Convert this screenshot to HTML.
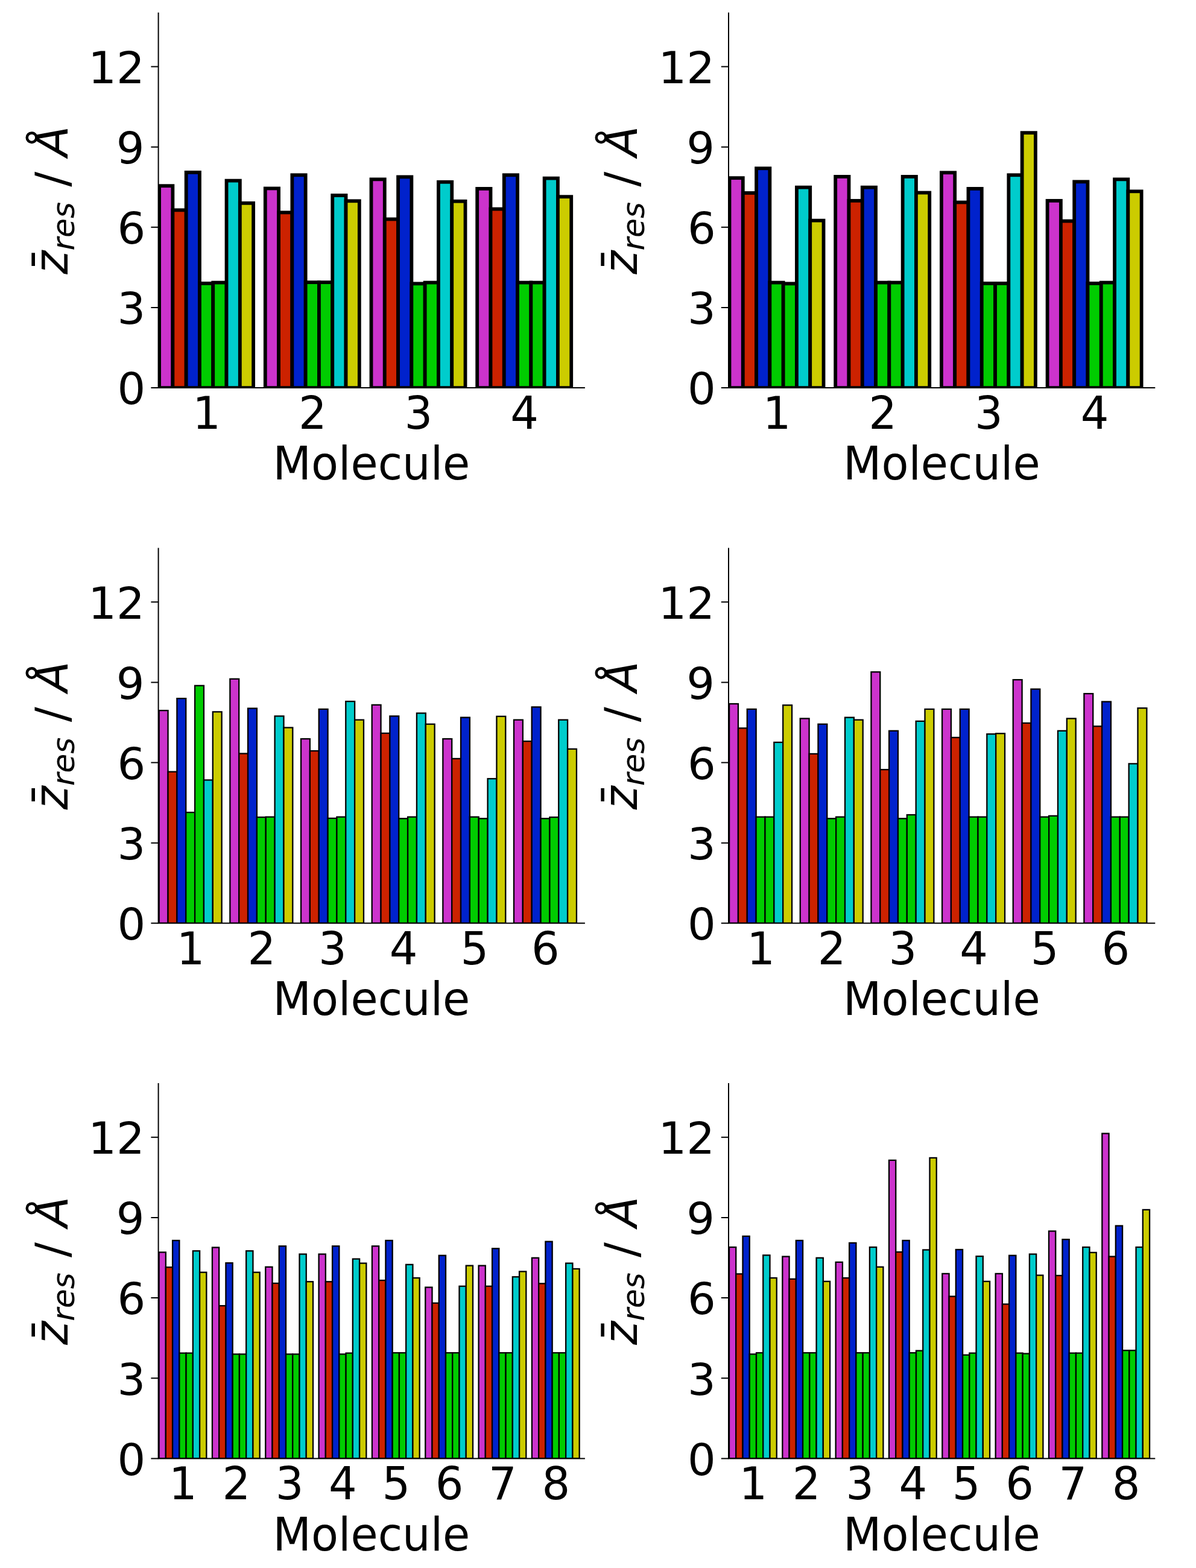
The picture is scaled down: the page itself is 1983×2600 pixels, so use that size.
<!DOCTYPE html>
<html><head><meta charset="utf-8"><title>z res bar charts</title><style>html,body{margin:0;padding:0;background:#fff;}svg{display:block;}</style></head><body>
<svg width="1983" height="2600" viewBox="0 0 1983 2600">
<rect x="0" y="0" width="1983" height="2600" fill="#ffffff"/>
<defs><clipPath id="c0"><rect x="262.60" y="20.80" width="707.30" height="622.30"/></clipPath><clipPath id="c1"><rect x="1208.00" y="20.80" width="707.30" height="622.30"/></clipPath><clipPath id="c2"><rect x="262.60" y="908.50" width="707.30" height="622.30"/></clipPath><clipPath id="c3"><rect x="1208.00" y="908.50" width="707.30" height="622.30"/></clipPath><clipPath id="c4"><rect x="262.60" y="1796.10" width="707.30" height="622.30"/></clipPath><clipPath id="c5"><rect x="1208.00" y="1796.10" width="707.30" height="622.30"/></clipPath></defs>
<g clip-path="url(#c0)" stroke="#000" stroke-width="5.8"><rect x="264.10" y="308.19" width="22.29" height="334.91" fill="#cc33cc"/><rect x="286.39" y="348.37" width="22.29" height="294.73" fill="#cc2200"/><rect x="308.68" y="285.84" width="22.29" height="357.26" fill="#0022cc"/><rect x="330.97" y="469.89" width="22.29" height="173.21" fill="#00cc00"/><rect x="353.26" y="468.56" width="22.29" height="174.54" fill="#00cc00"/><rect x="375.55" y="299.59" width="22.29" height="343.51" fill="#00cccc"/><rect x="397.84" y="336.84" width="22.29" height="306.26" fill="#cccc00"/><rect x="439.80" y="312.45" width="22.29" height="330.65" fill="#cc33cc"/><rect x="462.09" y="352.36" width="22.29" height="290.74" fill="#cc2200"/><rect x="484.38" y="290.27" width="22.29" height="352.83" fill="#0022cc"/><rect x="506.67" y="468.12" width="22.29" height="174.98" fill="#00cc00"/><rect x="528.96" y="468.12" width="22.29" height="174.98" fill="#00cc00"/><rect x="551.25" y="323.98" width="22.29" height="319.12" fill="#00cccc"/><rect x="573.54" y="333.29" width="22.29" height="309.81" fill="#cccc00"/><rect x="615.50" y="297.37" width="22.29" height="345.73" fill="#cc33cc"/><rect x="637.79" y="363.45" width="22.29" height="279.65" fill="#cc2200"/><rect x="660.08" y="293.38" width="22.29" height="349.72" fill="#0022cc"/><rect x="682.37" y="470.33" width="22.29" height="172.77" fill="#00cc00"/><rect x="704.66" y="468.56" width="22.29" height="174.54" fill="#00cc00"/><rect x="726.95" y="301.80" width="22.29" height="341.30" fill="#00cccc"/><rect x="749.24" y="333.74" width="22.29" height="309.36" fill="#cccc00"/><rect x="791.20" y="312.89" width="22.29" height="330.21" fill="#cc33cc"/><rect x="813.49" y="346.60" width="22.29" height="296.50" fill="#cc2200"/><rect x="835.78" y="290.27" width="22.29" height="352.83" fill="#0022cc"/><rect x="858.07" y="468.56" width="22.29" height="174.54" fill="#00cc00"/><rect x="880.36" y="468.56" width="22.29" height="174.54" fill="#00cc00"/><rect x="902.65" y="295.60" width="22.29" height="347.50" fill="#00cccc"/><rect x="924.94" y="326.20" width="22.29" height="316.90" fill="#cccc00"/></g>
<path d="M262.60 20.80V644.10M261.60 643.10H969.90" fill="none" stroke="#000" stroke-width="2.0"/>
<path d="M250.40 643.10H262.60M250.40 509.96H262.60M250.40 376.82H262.60M250.40 243.68H262.60M250.40 110.54H262.60" stroke="#000" stroke-width="2.0" fill="none"/>
<text transform="translate(241.30 670.40)" text-anchor="end" style="font-family:'DejaVu Sans','Liberation Sans',sans-serif;font-size:73.5px">0</text>
<text transform="translate(241.30 537.26)" text-anchor="end" style="font-family:'DejaVu Sans','Liberation Sans',sans-serif;font-size:73.5px">3</text>
<text transform="translate(241.30 404.12)" text-anchor="end" style="font-family:'DejaVu Sans','Liberation Sans',sans-serif;font-size:73.5px">6</text>
<text transform="translate(239.50 270.98)" text-anchor="end" style="font-family:'DejaVu Sans','Liberation Sans',sans-serif;font-size:73.5px">9</text>
<text transform="translate(239.70 137.84)" text-anchor="end" style="font-family:'DejaVu Sans','Liberation Sans',sans-serif;font-size:73.5px">12</text>
<text transform="translate(342.62 710.90) scale(1 1.015)" text-anchor="middle" style="font-family:'DejaVu Sans','Liberation Sans',sans-serif;font-size:73.5px">1</text>
<text transform="translate(518.32 710.90) scale(1 1.015)" text-anchor="middle" style="font-family:'DejaVu Sans','Liberation Sans',sans-serif;font-size:73.5px">2</text>
<text transform="translate(694.01 710.90) scale(1 1.015)" text-anchor="middle" style="font-family:'DejaVu Sans','Liberation Sans',sans-serif;font-size:73.5px">3</text>
<text transform="translate(869.71 710.90) scale(1 1.015)" text-anchor="middle" style="font-family:'DejaVu Sans','Liberation Sans',sans-serif;font-size:73.5px">4</text>
<text transform="translate(615.95 795.30) scale(1 1.03)" text-anchor="middle" style="font-family:'DejaVu Sans','Liberation Sans',sans-serif;font-size:73.5px">Molecule</text>
<g transform="translate(112.60 454.70) rotate(-90) scale(1 1.045)"><text style="font-family:'DejaVu Sans','Liberation Sans',sans-serif;font-size:74.5px"><tspan x="0" y="-0.3" font-style="oblique">z</tspan><tspan x="6.00" y="-1.2">¯</tspan></text></g><g transform="translate(112.60 454.70) rotate(-90)"><text style="font-family:'DejaVu Sans','Liberation Sans',sans-serif;font-size:74.5px"><tspan x="39.22" y="10.8" font-style="oblique" font-size="52.15px">r</tspan><tspan x="60.66" y="10.8" font-style="oblique" font-size="52.15px">e</tspan><tspan x="92.75" y="10.8" font-style="oblique" font-size="52.15px">s</tspan><tspan x="145.05" y="-0.31">/</tspan><tspan x="195.03" y="-0.31" font-style="oblique">Å</tspan></text></g>
<g clip-path="url(#c1)" stroke="#000" stroke-width="5.8"><rect x="1209.50" y="295.15" width="22.29" height="347.95" fill="#cc33cc"/><rect x="1231.79" y="319.99" width="22.29" height="323.11" fill="#cc2200"/><rect x="1254.08" y="279.19" width="22.29" height="363.91" fill="#0022cc"/><rect x="1276.37" y="468.56" width="22.29" height="174.54" fill="#00cc00"/><rect x="1298.66" y="470.33" width="22.29" height="172.77" fill="#00cc00"/><rect x="1320.95" y="310.67" width="22.29" height="332.43" fill="#00cccc"/><rect x="1343.24" y="365.67" width="22.29" height="277.43" fill="#cccc00"/><rect x="1385.20" y="292.93" width="22.29" height="350.17" fill="#cc33cc"/><rect x="1407.49" y="332.85" width="22.29" height="310.25" fill="#cc2200"/><rect x="1429.78" y="310.67" width="22.29" height="332.43" fill="#0022cc"/><rect x="1452.07" y="468.56" width="22.29" height="174.54" fill="#00cc00"/><rect x="1474.36" y="468.56" width="22.29" height="174.54" fill="#00cc00"/><rect x="1496.65" y="292.93" width="22.29" height="350.17" fill="#00cccc"/><rect x="1518.94" y="319.54" width="22.29" height="323.56" fill="#cccc00"/><rect x="1560.90" y="286.28" width="22.29" height="356.82" fill="#cc33cc"/><rect x="1583.19" y="335.51" width="22.29" height="307.59" fill="#cc2200"/><rect x="1605.48" y="312.89" width="22.29" height="330.21" fill="#0022cc"/><rect x="1627.77" y="469.89" width="22.29" height="173.21" fill="#00cc00"/><rect x="1650.06" y="469.89" width="22.29" height="173.21" fill="#00cc00"/><rect x="1672.35" y="290.27" width="22.29" height="352.83" fill="#00cccc"/><rect x="1694.64" y="220.20" width="22.29" height="422.90" fill="#cccc00"/><rect x="1736.60" y="332.85" width="22.29" height="310.25" fill="#cc33cc"/><rect x="1758.89" y="366.56" width="22.29" height="276.54" fill="#cc2200"/><rect x="1781.18" y="301.36" width="22.29" height="341.74" fill="#0022cc"/><rect x="1803.47" y="469.89" width="22.29" height="173.21" fill="#00cc00"/><rect x="1825.76" y="468.56" width="22.29" height="174.54" fill="#00cc00"/><rect x="1848.05" y="297.37" width="22.29" height="345.73" fill="#00cccc"/><rect x="1870.34" y="317.33" width="22.29" height="325.77" fill="#cccc00"/></g>
<path d="M1208.00 20.80V644.10M1207.00 643.10H1915.30" fill="none" stroke="#000" stroke-width="2.0"/>
<path d="M1195.80 643.10H1208.00M1195.80 509.96H1208.00M1195.80 376.82H1208.00M1195.80 243.68H1208.00M1195.80 110.54H1208.00" stroke="#000" stroke-width="2.0" fill="none"/>
<text transform="translate(1186.70 670.40)" text-anchor="end" style="font-family:'DejaVu Sans','Liberation Sans',sans-serif;font-size:73.5px">0</text>
<text transform="translate(1186.70 537.26)" text-anchor="end" style="font-family:'DejaVu Sans','Liberation Sans',sans-serif;font-size:73.5px">3</text>
<text transform="translate(1186.70 404.12)" text-anchor="end" style="font-family:'DejaVu Sans','Liberation Sans',sans-serif;font-size:73.5px">6</text>
<text transform="translate(1184.90 270.98)" text-anchor="end" style="font-family:'DejaVu Sans','Liberation Sans',sans-serif;font-size:73.5px">9</text>
<text transform="translate(1185.10 137.84)" text-anchor="end" style="font-family:'DejaVu Sans','Liberation Sans',sans-serif;font-size:73.5px">12</text>
<text transform="translate(1288.02 710.90) scale(1 1.015)" text-anchor="middle" style="font-family:'DejaVu Sans','Liberation Sans',sans-serif;font-size:73.5px">1</text>
<text transform="translate(1463.72 710.90) scale(1 1.015)" text-anchor="middle" style="font-family:'DejaVu Sans','Liberation Sans',sans-serif;font-size:73.5px">2</text>
<text transform="translate(1639.42 710.90) scale(1 1.015)" text-anchor="middle" style="font-family:'DejaVu Sans','Liberation Sans',sans-serif;font-size:73.5px">3</text>
<text transform="translate(1815.12 710.90) scale(1 1.015)" text-anchor="middle" style="font-family:'DejaVu Sans','Liberation Sans',sans-serif;font-size:73.5px">4</text>
<text transform="translate(1561.35 795.30) scale(1 1.03)" text-anchor="middle" style="font-family:'DejaVu Sans','Liberation Sans',sans-serif;font-size:73.5px">Molecule</text>
<g transform="translate(1056.70 454.70) rotate(-90) scale(1 1.045)"><text style="font-family:'DejaVu Sans','Liberation Sans',sans-serif;font-size:74.5px"><tspan x="0" y="-0.3" font-style="oblique">z</tspan><tspan x="6.00" y="-1.2">¯</tspan></text></g><g transform="translate(1056.70 454.70) rotate(-90)"><text style="font-family:'DejaVu Sans','Liberation Sans',sans-serif;font-size:74.5px"><tspan x="39.22" y="10.8" font-style="oblique" font-size="52.15px">r</tspan><tspan x="60.66" y="10.8" font-style="oblique" font-size="52.15px">e</tspan><tspan x="92.75" y="10.8" font-style="oblique" font-size="52.15px">s</tspan><tspan x="145.05" y="-0.31">/</tspan><tspan x="195.03" y="-0.31" font-style="oblique">Å</tspan></text></g>
<g clip-path="url(#c2)" stroke="#000" stroke-width="2.3"><rect x="263.70" y="1178.12" width="14.85" height="352.68" fill="#cc33cc"/><rect x="278.55" y="1279.68" width="14.85" height="251.12" fill="#cc2200"/><rect x="293.40" y="1158.16" width="14.85" height="372.64" fill="#0022cc"/><rect x="308.25" y="1347.09" width="14.85" height="183.71" fill="#00cc00"/><rect x="323.10" y="1136.87" width="14.85" height="393.93" fill="#00cc00"/><rect x="337.95" y="1293.43" width="14.85" height="237.37" fill="#00cccc"/><rect x="352.80" y="1180.34" width="14.85" height="350.46" fill="#cccc00"/><rect x="381.36" y="1125.78" width="14.85" height="405.02" fill="#cc33cc"/><rect x="396.21" y="1249.52" width="14.85" height="281.28" fill="#cc2200"/><rect x="411.06" y="1174.57" width="14.85" height="356.23" fill="#0022cc"/><rect x="425.91" y="1355.07" width="14.85" height="175.73" fill="#00cc00"/><rect x="440.76" y="1354.63" width="14.85" height="176.17" fill="#00cc00"/><rect x="455.61" y="1187.43" width="14.85" height="343.37" fill="#00cccc"/><rect x="470.46" y="1206.50" width="14.85" height="324.30" fill="#cccc00"/><rect x="499.02" y="1225.13" width="14.85" height="305.67" fill="#cc33cc"/><rect x="513.87" y="1245.09" width="14.85" height="285.71" fill="#cc2200"/><rect x="528.72" y="1175.90" width="14.85" height="354.90" fill="#0022cc"/><rect x="543.57" y="1356.85" width="14.85" height="173.95" fill="#00cc00"/><rect x="558.42" y="1354.63" width="14.85" height="176.17" fill="#00cc00"/><rect x="573.27" y="1163.04" width="14.85" height="367.76" fill="#00cccc"/><rect x="588.12" y="1193.64" width="14.85" height="337.16" fill="#cccc00"/><rect x="616.68" y="1168.80" width="14.85" height="362.00" fill="#cc33cc"/><rect x="631.53" y="1215.82" width="14.85" height="314.98" fill="#cc2200"/><rect x="646.38" y="1187.43" width="14.85" height="343.37" fill="#0022cc"/><rect x="661.23" y="1357.29" width="14.85" height="173.51" fill="#00cc00"/><rect x="676.08" y="1354.63" width="14.85" height="176.17" fill="#00cc00"/><rect x="690.93" y="1182.55" width="14.85" height="348.25" fill="#00cccc"/><rect x="705.78" y="1200.74" width="14.85" height="330.06" fill="#cccc00"/><rect x="734.34" y="1225.13" width="14.85" height="305.67" fill="#cc33cc"/><rect x="749.19" y="1257.95" width="14.85" height="272.85" fill="#cc2200"/><rect x="764.04" y="1189.65" width="14.85" height="341.15" fill="#0022cc"/><rect x="778.89" y="1354.63" width="14.85" height="176.17" fill="#00cc00"/><rect x="793.74" y="1357.29" width="14.85" height="173.51" fill="#00cc00"/><rect x="808.59" y="1291.21" width="14.85" height="239.59" fill="#00cccc"/><rect x="823.44" y="1187.87" width="14.85" height="342.93" fill="#cccc00"/><rect x="852.00" y="1193.64" width="14.85" height="337.16" fill="#cc33cc"/><rect x="866.85" y="1229.12" width="14.85" height="301.68" fill="#cc2200"/><rect x="881.70" y="1172.35" width="14.85" height="358.45" fill="#0022cc"/><rect x="896.55" y="1357.29" width="14.85" height="173.51" fill="#00cc00"/><rect x="911.40" y="1355.07" width="14.85" height="175.73" fill="#00cc00"/><rect x="926.25" y="1193.64" width="14.85" height="337.16" fill="#00cccc"/><rect x="941.10" y="1241.98" width="14.85" height="288.82" fill="#cccc00"/></g>
<path d="M262.60 908.50V1531.80M261.60 1530.80H969.90" fill="none" stroke="#000" stroke-width="2.0"/>
<path d="M250.40 1530.80H262.60M250.40 1397.66H262.60M250.40 1264.52H262.60M250.40 1131.38H262.60M250.40 998.24H262.60" stroke="#000" stroke-width="2.0" fill="none"/>
<text transform="translate(241.30 1558.10)" text-anchor="end" style="font-family:'DejaVu Sans','Liberation Sans',sans-serif;font-size:73.5px">0</text>
<text transform="translate(241.30 1424.96)" text-anchor="end" style="font-family:'DejaVu Sans','Liberation Sans',sans-serif;font-size:73.5px">3</text>
<text transform="translate(241.30 1291.82)" text-anchor="end" style="font-family:'DejaVu Sans','Liberation Sans',sans-serif;font-size:73.5px">6</text>
<text transform="translate(239.50 1158.68)" text-anchor="end" style="font-family:'DejaVu Sans','Liberation Sans',sans-serif;font-size:73.5px">9</text>
<text transform="translate(239.70 1025.54)" text-anchor="end" style="font-family:'DejaVu Sans','Liberation Sans',sans-serif;font-size:73.5px">12</text>
<text transform="translate(316.18 1598.60) scale(1 1.015)" text-anchor="middle" style="font-family:'DejaVu Sans','Liberation Sans',sans-serif;font-size:73.5px">1</text>
<text transform="translate(433.84 1598.60) scale(1 1.015)" text-anchor="middle" style="font-family:'DejaVu Sans','Liberation Sans',sans-serif;font-size:73.5px">2</text>
<text transform="translate(551.50 1598.60) scale(1 1.015)" text-anchor="middle" style="font-family:'DejaVu Sans','Liberation Sans',sans-serif;font-size:73.5px">3</text>
<text transform="translate(669.16 1598.60) scale(1 1.015)" text-anchor="middle" style="font-family:'DejaVu Sans','Liberation Sans',sans-serif;font-size:73.5px">4</text>
<text transform="translate(786.82 1598.60) scale(1 1.015)" text-anchor="middle" style="font-family:'DejaVu Sans','Liberation Sans',sans-serif;font-size:73.5px">5</text>
<text transform="translate(904.48 1598.60) scale(1 1.015)" text-anchor="middle" style="font-family:'DejaVu Sans','Liberation Sans',sans-serif;font-size:73.5px">6</text>
<text transform="translate(615.95 1683.00) scale(1 1.03)" text-anchor="middle" style="font-family:'DejaVu Sans','Liberation Sans',sans-serif;font-size:73.5px">Molecule</text>
<g transform="translate(112.60 1342.40) rotate(-90) scale(1 1.045)"><text style="font-family:'DejaVu Sans','Liberation Sans',sans-serif;font-size:74.5px"><tspan x="0" y="-0.3" font-style="oblique">z</tspan><tspan x="6.00" y="-1.2">¯</tspan></text></g><g transform="translate(112.60 1342.40) rotate(-90)"><text style="font-family:'DejaVu Sans','Liberation Sans',sans-serif;font-size:74.5px"><tspan x="39.22" y="10.8" font-style="oblique" font-size="52.15px">r</tspan><tspan x="60.66" y="10.8" font-style="oblique" font-size="52.15px">e</tspan><tspan x="92.75" y="10.8" font-style="oblique" font-size="52.15px">s</tspan><tspan x="145.05" y="-0.31">/</tspan><tspan x="195.03" y="-0.31" font-style="oblique">Å</tspan></text></g>
<g clip-path="url(#c3)" stroke="#000" stroke-width="2.3"><rect x="1209.10" y="1167.03" width="14.85" height="363.77" fill="#cc33cc"/><rect x="1223.95" y="1207.39" width="14.85" height="323.41" fill="#cc2200"/><rect x="1238.80" y="1175.90" width="14.85" height="354.90" fill="#0022cc"/><rect x="1253.65" y="1354.63" width="14.85" height="176.17" fill="#00cc00"/><rect x="1268.50" y="1354.63" width="14.85" height="176.17" fill="#00cc00"/><rect x="1283.35" y="1230.89" width="14.85" height="299.91" fill="#00cccc"/><rect x="1298.20" y="1169.25" width="14.85" height="361.55" fill="#cccc00"/><rect x="1326.76" y="1191.42" width="14.85" height="339.38" fill="#cc33cc"/><rect x="1341.61" y="1249.96" width="14.85" height="280.84" fill="#cc2200"/><rect x="1356.46" y="1200.74" width="14.85" height="330.06" fill="#0022cc"/><rect x="1371.31" y="1357.29" width="14.85" height="173.51" fill="#00cc00"/><rect x="1386.16" y="1354.63" width="14.85" height="176.17" fill="#00cc00"/><rect x="1401.01" y="1189.65" width="14.85" height="341.15" fill="#00cccc"/><rect x="1415.86" y="1193.64" width="14.85" height="337.16" fill="#cccc00"/><rect x="1444.42" y="1114.25" width="14.85" height="416.55" fill="#cc33cc"/><rect x="1459.27" y="1276.13" width="14.85" height="254.67" fill="#cc2200"/><rect x="1474.12" y="1211.82" width="14.85" height="318.98" fill="#0022cc"/><rect x="1488.97" y="1357.29" width="14.85" height="173.51" fill="#00cc00"/><rect x="1503.82" y="1351.08" width="14.85" height="179.72" fill="#00cc00"/><rect x="1518.67" y="1195.86" width="14.85" height="334.94" fill="#00cccc"/><rect x="1533.52" y="1175.90" width="14.85" height="354.90" fill="#cccc00"/><rect x="1562.08" y="1175.90" width="14.85" height="354.90" fill="#cc33cc"/><rect x="1576.93" y="1222.91" width="14.85" height="307.89" fill="#cc2200"/><rect x="1591.78" y="1175.90" width="14.85" height="354.90" fill="#0022cc"/><rect x="1606.63" y="1354.63" width="14.85" height="176.17" fill="#00cc00"/><rect x="1621.48" y="1354.63" width="14.85" height="176.17" fill="#00cc00"/><rect x="1636.33" y="1217.15" width="14.85" height="313.65" fill="#00cccc"/><rect x="1651.18" y="1216.26" width="14.85" height="314.54" fill="#cccc00"/><rect x="1679.74" y="1127.12" width="14.85" height="403.68" fill="#cc33cc"/><rect x="1694.59" y="1198.96" width="14.85" height="331.84" fill="#cc2200"/><rect x="1709.44" y="1142.64" width="14.85" height="388.16" fill="#0022cc"/><rect x="1724.29" y="1354.63" width="14.85" height="176.17" fill="#00cc00"/><rect x="1739.14" y="1352.86" width="14.85" height="177.94" fill="#00cc00"/><rect x="1753.99" y="1211.82" width="14.85" height="318.98" fill="#00cccc"/><rect x="1768.84" y="1191.42" width="14.85" height="339.38" fill="#cccc00"/><rect x="1797.40" y="1150.18" width="14.85" height="380.62" fill="#cc33cc"/><rect x="1812.25" y="1204.28" width="14.85" height="326.52" fill="#cc2200"/><rect x="1827.10" y="1163.48" width="14.85" height="367.32" fill="#0022cc"/><rect x="1841.95" y="1354.63" width="14.85" height="176.17" fill="#00cc00"/><rect x="1856.80" y="1354.63" width="14.85" height="176.17" fill="#00cc00"/><rect x="1871.65" y="1266.37" width="14.85" height="264.43" fill="#00cccc"/><rect x="1886.50" y="1174.13" width="14.85" height="356.67" fill="#cccc00"/></g>
<path d="M1208.00 908.50V1531.80M1207.00 1530.80H1915.30" fill="none" stroke="#000" stroke-width="2.0"/>
<path d="M1195.80 1530.80H1208.00M1195.80 1397.66H1208.00M1195.80 1264.52H1208.00M1195.80 1131.38H1208.00M1195.80 998.24H1208.00" stroke="#000" stroke-width="2.0" fill="none"/>
<text transform="translate(1186.70 1558.10)" text-anchor="end" style="font-family:'DejaVu Sans','Liberation Sans',sans-serif;font-size:73.5px">0</text>
<text transform="translate(1186.70 1424.96)" text-anchor="end" style="font-family:'DejaVu Sans','Liberation Sans',sans-serif;font-size:73.5px">3</text>
<text transform="translate(1186.70 1291.82)" text-anchor="end" style="font-family:'DejaVu Sans','Liberation Sans',sans-serif;font-size:73.5px">6</text>
<text transform="translate(1184.90 1158.68)" text-anchor="end" style="font-family:'DejaVu Sans','Liberation Sans',sans-serif;font-size:73.5px">9</text>
<text transform="translate(1185.10 1025.54)" text-anchor="end" style="font-family:'DejaVu Sans','Liberation Sans',sans-serif;font-size:73.5px">12</text>
<text transform="translate(1261.57 1598.60) scale(1 1.015)" text-anchor="middle" style="font-family:'DejaVu Sans','Liberation Sans',sans-serif;font-size:73.5px">1</text>
<text transform="translate(1379.23 1598.60) scale(1 1.015)" text-anchor="middle" style="font-family:'DejaVu Sans','Liberation Sans',sans-serif;font-size:73.5px">2</text>
<text transform="translate(1496.89 1598.60) scale(1 1.015)" text-anchor="middle" style="font-family:'DejaVu Sans','Liberation Sans',sans-serif;font-size:73.5px">3</text>
<text transform="translate(1614.55 1598.60) scale(1 1.015)" text-anchor="middle" style="font-family:'DejaVu Sans','Liberation Sans',sans-serif;font-size:73.5px">4</text>
<text transform="translate(1732.21 1598.60) scale(1 1.015)" text-anchor="middle" style="font-family:'DejaVu Sans','Liberation Sans',sans-serif;font-size:73.5px">5</text>
<text transform="translate(1849.87 1598.60) scale(1 1.015)" text-anchor="middle" style="font-family:'DejaVu Sans','Liberation Sans',sans-serif;font-size:73.5px">6</text>
<text transform="translate(1561.35 1683.00) scale(1 1.03)" text-anchor="middle" style="font-family:'DejaVu Sans','Liberation Sans',sans-serif;font-size:73.5px">Molecule</text>
<g transform="translate(1056.70 1342.40) rotate(-90) scale(1 1.045)"><text style="font-family:'DejaVu Sans','Liberation Sans',sans-serif;font-size:74.5px"><tspan x="0" y="-0.3" font-style="oblique">z</tspan><tspan x="6.00" y="-1.2">¯</tspan></text></g><g transform="translate(1056.70 1342.40) rotate(-90)"><text style="font-family:'DejaVu Sans','Liberation Sans',sans-serif;font-size:74.5px"><tspan x="39.22" y="10.8" font-style="oblique" font-size="52.15px">r</tspan><tspan x="60.66" y="10.8" font-style="oblique" font-size="52.15px">e</tspan><tspan x="92.75" y="10.8" font-style="oblique" font-size="52.15px">s</tspan><tspan x="145.05" y="-0.31">/</tspan><tspan x="195.03" y="-0.31" font-style="oblique">Å</tspan></text></g>
<g clip-path="url(#c4)" stroke="#000" stroke-width="2.3"><rect x="263.60" y="2076.45" width="11.25" height="341.95" fill="#cc33cc"/><rect x="274.85" y="2101.28" width="11.25" height="317.12" fill="#cc2200"/><rect x="286.10" y="2056.93" width="11.25" height="361.47" fill="#0022cc"/><rect x="297.35" y="2243.65" width="11.25" height="174.75" fill="#00cc00"/><rect x="308.60" y="2243.65" width="11.25" height="174.75" fill="#00cc00"/><rect x="319.85" y="2074.23" width="11.25" height="344.17" fill="#00cccc"/><rect x="331.10" y="2109.71" width="11.25" height="308.69" fill="#cccc00"/><rect x="351.93" y="2068.47" width="11.25" height="349.93" fill="#cc33cc"/><rect x="363.18" y="2165.15" width="11.25" height="253.25" fill="#cc2200"/><rect x="374.43" y="2094.19" width="11.25" height="324.21" fill="#0022cc"/><rect x="385.68" y="2245.42" width="11.25" height="172.98" fill="#00cc00"/><rect x="396.93" y="2245.42" width="11.25" height="172.98" fill="#00cc00"/><rect x="408.18" y="2074.23" width="11.25" height="344.17" fill="#00cccc"/><rect x="419.43" y="2109.71" width="11.25" height="308.69" fill="#cccc00"/><rect x="440.26" y="2100.84" width="11.25" height="317.56" fill="#cc33cc"/><rect x="451.51" y="2127.89" width="11.25" height="290.51" fill="#cc2200"/><rect x="462.76" y="2066.25" width="11.25" height="352.15" fill="#0022cc"/><rect x="474.01" y="2245.42" width="11.25" height="172.98" fill="#00cc00"/><rect x="485.26" y="2245.42" width="11.25" height="172.98" fill="#00cc00"/><rect x="496.51" y="2079.55" width="11.25" height="338.85" fill="#00cccc"/><rect x="507.76" y="2125.23" width="11.25" height="293.17" fill="#cccc00"/><rect x="528.59" y="2079.55" width="11.25" height="338.85" fill="#cc33cc"/><rect x="539.84" y="2125.23" width="11.25" height="293.17" fill="#cc2200"/><rect x="551.09" y="2066.25" width="11.25" height="352.15" fill="#0022cc"/><rect x="562.34" y="2245.42" width="11.25" height="172.98" fill="#00cc00"/><rect x="573.59" y="2243.65" width="11.25" height="174.75" fill="#00cc00"/><rect x="584.84" y="2087.54" width="11.25" height="330.86" fill="#00cccc"/><rect x="596.09" y="2094.63" width="11.25" height="323.77" fill="#cccc00"/><rect x="616.92" y="2066.25" width="11.25" height="352.15" fill="#cc33cc"/><rect x="628.17" y="2123.02" width="11.25" height="295.38" fill="#cc2200"/><rect x="639.42" y="2056.93" width="11.25" height="361.47" fill="#0022cc"/><rect x="650.67" y="2243.20" width="11.25" height="175.20" fill="#00cc00"/><rect x="661.92" y="2243.20" width="11.25" height="175.20" fill="#00cc00"/><rect x="673.17" y="2096.85" width="11.25" height="321.55" fill="#00cccc"/><rect x="684.42" y="2119.02" width="11.25" height="299.38" fill="#cccc00"/><rect x="705.25" y="2134.55" width="11.25" height="283.85" fill="#cc33cc"/><rect x="716.50" y="2160.71" width="11.25" height="257.69" fill="#cc2200"/><rect x="727.75" y="2081.77" width="11.25" height="336.63" fill="#0022cc"/><rect x="739.00" y="2243.20" width="11.25" height="175.20" fill="#00cc00"/><rect x="750.25" y="2243.20" width="11.25" height="175.20" fill="#00cc00"/><rect x="761.50" y="2132.77" width="11.25" height="285.63" fill="#00cccc"/><rect x="772.75" y="2098.62" width="11.25" height="319.78" fill="#cccc00"/><rect x="793.58" y="2098.62" width="11.25" height="319.78" fill="#cc33cc"/><rect x="804.83" y="2132.77" width="11.25" height="285.63" fill="#cc2200"/><rect x="816.08" y="2070.24" width="11.25" height="348.16" fill="#0022cc"/><rect x="827.33" y="2243.20" width="11.25" height="175.20" fill="#00cc00"/><rect x="838.58" y="2243.20" width="11.25" height="175.20" fill="#00cc00"/><rect x="849.83" y="2117.25" width="11.25" height="301.15" fill="#00cccc"/><rect x="861.08" y="2108.38" width="11.25" height="310.02" fill="#cccc00"/><rect x="881.91" y="2085.76" width="11.25" height="332.64" fill="#cc33cc"/><rect x="893.16" y="2128.34" width="11.25" height="290.06" fill="#cc2200"/><rect x="904.41" y="2058.71" width="11.25" height="359.69" fill="#0022cc"/><rect x="915.66" y="2243.20" width="11.25" height="175.20" fill="#00cc00"/><rect x="926.91" y="2243.20" width="11.25" height="175.20" fill="#00cc00"/><rect x="938.16" y="2094.63" width="11.25" height="323.77" fill="#00cccc"/><rect x="949.41" y="2103.95" width="11.25" height="314.45" fill="#cccc00"/></g>
<path d="M262.60 1796.10V2419.40M261.60 2418.40H969.90" fill="none" stroke="#000" stroke-width="2.0"/>
<path d="M250.40 2418.40H262.60M250.40 2285.26H262.60M250.40 2152.12H262.60M250.40 2018.98H262.60M250.40 1885.84H262.60" stroke="#000" stroke-width="2.0" fill="none"/>
<text transform="translate(241.30 2445.70)" text-anchor="end" style="font-family:'DejaVu Sans','Liberation Sans',sans-serif;font-size:73.5px">0</text>
<text transform="translate(241.30 2312.56)" text-anchor="end" style="font-family:'DejaVu Sans','Liberation Sans',sans-serif;font-size:73.5px">3</text>
<text transform="translate(241.30 2179.42)" text-anchor="end" style="font-family:'DejaVu Sans','Liberation Sans',sans-serif;font-size:73.5px">6</text>
<text transform="translate(239.50 2046.28)" text-anchor="end" style="font-family:'DejaVu Sans','Liberation Sans',sans-serif;font-size:73.5px">9</text>
<text transform="translate(239.70 1913.14)" text-anchor="end" style="font-family:'DejaVu Sans','Liberation Sans',sans-serif;font-size:73.5px">12</text>
<text transform="translate(303.48 2486.20) scale(1 1.015)" text-anchor="middle" style="font-family:'DejaVu Sans','Liberation Sans',sans-serif;font-size:73.5px">1</text>
<text transform="translate(391.81 2486.20) scale(1 1.015)" text-anchor="middle" style="font-family:'DejaVu Sans','Liberation Sans',sans-serif;font-size:73.5px">2</text>
<text transform="translate(480.13 2486.20) scale(1 1.015)" text-anchor="middle" style="font-family:'DejaVu Sans','Liberation Sans',sans-serif;font-size:73.5px">3</text>
<text transform="translate(568.47 2486.20) scale(1 1.015)" text-anchor="middle" style="font-family:'DejaVu Sans','Liberation Sans',sans-serif;font-size:73.5px">4</text>
<text transform="translate(656.80 2486.20) scale(1 1.015)" text-anchor="middle" style="font-family:'DejaVu Sans','Liberation Sans',sans-serif;font-size:73.5px">5</text>
<text transform="translate(745.12 2486.20) scale(1 1.015)" text-anchor="middle" style="font-family:'DejaVu Sans','Liberation Sans',sans-serif;font-size:73.5px">6</text>
<text transform="translate(833.46 2486.20) scale(1 1.015)" text-anchor="middle" style="font-family:'DejaVu Sans','Liberation Sans',sans-serif;font-size:73.5px">7</text>
<text transform="translate(921.78 2486.20) scale(1 1.015)" text-anchor="middle" style="font-family:'DejaVu Sans','Liberation Sans',sans-serif;font-size:73.5px">8</text>
<text transform="translate(615.95 2570.60) scale(1 1.03)" text-anchor="middle" style="font-family:'DejaVu Sans','Liberation Sans',sans-serif;font-size:73.5px">Molecule</text>
<g transform="translate(112.60 2230.00) rotate(-90) scale(1 1.045)"><text style="font-family:'DejaVu Sans','Liberation Sans',sans-serif;font-size:74.5px"><tspan x="0" y="-0.3" font-style="oblique">z</tspan><tspan x="6.00" y="-1.2">¯</tspan></text></g><g transform="translate(112.60 2230.00) rotate(-90)"><text style="font-family:'DejaVu Sans','Liberation Sans',sans-serif;font-size:74.5px"><tspan x="39.22" y="10.8" font-style="oblique" font-size="52.15px">r</tspan><tspan x="60.66" y="10.8" font-style="oblique" font-size="52.15px">e</tspan><tspan x="92.75" y="10.8" font-style="oblique" font-size="52.15px">s</tspan><tspan x="145.05" y="-0.31">/</tspan><tspan x="195.03" y="-0.31" font-style="oblique">Å</tspan></text></g>
<g clip-path="url(#c5)" stroke="#000" stroke-width="2.3"><rect x="1209.00" y="2068.02" width="11.25" height="350.38" fill="#cc33cc"/><rect x="1220.25" y="2112.37" width="11.25" height="306.03" fill="#cc2200"/><rect x="1231.50" y="2049.84" width="11.25" height="368.56" fill="#0022cc"/><rect x="1242.75" y="2245.42" width="11.25" height="172.98" fill="#00cc00"/><rect x="1254.00" y="2243.20" width="11.25" height="175.20" fill="#00cc00"/><rect x="1265.25" y="2081.33" width="11.25" height="337.07" fill="#00cccc"/><rect x="1276.50" y="2119.02" width="11.25" height="299.38" fill="#cccc00"/><rect x="1297.33" y="2083.54" width="11.25" height="334.86" fill="#cc33cc"/><rect x="1308.58" y="2120.80" width="11.25" height="297.60" fill="#cc2200"/><rect x="1319.83" y="2056.93" width="11.25" height="361.47" fill="#0022cc"/><rect x="1331.08" y="2243.20" width="11.25" height="175.20" fill="#00cc00"/><rect x="1342.33" y="2243.20" width="11.25" height="175.20" fill="#00cc00"/><rect x="1353.58" y="2085.76" width="11.25" height="332.64" fill="#00cccc"/><rect x="1364.83" y="2124.79" width="11.25" height="293.61" fill="#cccc00"/><rect x="1385.66" y="2092.86" width="11.25" height="325.54" fill="#cc33cc"/><rect x="1396.91" y="2119.02" width="11.25" height="299.38" fill="#cc2200"/><rect x="1408.16" y="2060.93" width="11.25" height="357.47" fill="#0022cc"/><rect x="1419.41" y="2243.20" width="11.25" height="175.20" fill="#00cc00"/><rect x="1430.66" y="2243.20" width="11.25" height="175.20" fill="#00cc00"/><rect x="1441.91" y="2068.02" width="11.25" height="350.38" fill="#00cccc"/><rect x="1453.16" y="2100.84" width="11.25" height="317.56" fill="#cccc00"/><rect x="1473.99" y="1923.88" width="11.25" height="494.52" fill="#cc33cc"/><rect x="1485.24" y="2076.01" width="11.25" height="342.39" fill="#cc2200"/><rect x="1496.49" y="2056.93" width="11.25" height="361.47" fill="#0022cc"/><rect x="1507.74" y="2243.20" width="11.25" height="175.20" fill="#00cc00"/><rect x="1518.99" y="2239.66" width="11.25" height="178.74" fill="#00cc00"/><rect x="1530.24" y="2072.46" width="11.25" height="345.94" fill="#00cccc"/><rect x="1541.49" y="1919.89" width="11.25" height="498.51" fill="#cccc00"/><rect x="1562.32" y="2111.93" width="11.25" height="306.47" fill="#cc33cc"/><rect x="1573.57" y="2149.63" width="11.25" height="268.77" fill="#cc2200"/><rect x="1584.82" y="2072.01" width="11.25" height="346.39" fill="#0022cc"/><rect x="1596.07" y="2246.75" width="11.25" height="171.65" fill="#00cc00"/><rect x="1607.32" y="2243.65" width="11.25" height="174.75" fill="#00cc00"/><rect x="1618.57" y="2083.10" width="11.25" height="335.30" fill="#00cccc"/><rect x="1629.82" y="2124.79" width="11.25" height="293.61" fill="#cccc00"/><rect x="1650.65" y="2111.93" width="11.25" height="306.47" fill="#cc33cc"/><rect x="1661.90" y="2162.49" width="11.25" height="255.91" fill="#cc2200"/><rect x="1673.15" y="2081.77" width="11.25" height="336.63" fill="#0022cc"/><rect x="1684.40" y="2243.65" width="11.25" height="174.75" fill="#00cc00"/><rect x="1695.65" y="2244.53" width="11.25" height="173.87" fill="#00cc00"/><rect x="1706.90" y="2079.55" width="11.25" height="338.85" fill="#00cccc"/><rect x="1718.15" y="2114.59" width="11.25" height="303.81" fill="#cccc00"/><rect x="1738.98" y="2041.41" width="11.25" height="376.99" fill="#cc33cc"/><rect x="1750.23" y="2115.03" width="11.25" height="303.37" fill="#cc2200"/><rect x="1761.48" y="2055.16" width="11.25" height="363.24" fill="#0022cc"/><rect x="1772.73" y="2243.65" width="11.25" height="174.75" fill="#00cc00"/><rect x="1783.98" y="2243.65" width="11.25" height="174.75" fill="#00cc00"/><rect x="1795.23" y="2068.02" width="11.25" height="350.38" fill="#00cccc"/><rect x="1806.48" y="2076.89" width="11.25" height="341.51" fill="#cccc00"/><rect x="1827.31" y="1879.53" width="11.25" height="538.87" fill="#cc33cc"/><rect x="1838.56" y="2083.54" width="11.25" height="334.86" fill="#cc2200"/><rect x="1849.81" y="2032.54" width="11.25" height="385.86" fill="#0022cc"/><rect x="1861.06" y="2239.21" width="11.25" height="179.19" fill="#00cc00"/><rect x="1872.31" y="2239.21" width="11.25" height="179.19" fill="#00cc00"/><rect x="1883.56" y="2068.02" width="11.25" height="350.38" fill="#00cccc"/><rect x="1894.81" y="2005.93" width="11.25" height="412.47" fill="#cccc00"/></g>
<path d="M1208.00 1796.10V2419.40M1207.00 2418.40H1915.30" fill="none" stroke="#000" stroke-width="2.0"/>
<path d="M1195.80 2418.40H1208.00M1195.80 2285.26H1208.00M1195.80 2152.12H1208.00M1195.80 2018.98H1208.00M1195.80 1885.84H1208.00" stroke="#000" stroke-width="2.0" fill="none"/>
<text transform="translate(1186.70 2445.70)" text-anchor="end" style="font-family:'DejaVu Sans','Liberation Sans',sans-serif;font-size:73.5px">0</text>
<text transform="translate(1186.70 2312.56)" text-anchor="end" style="font-family:'DejaVu Sans','Liberation Sans',sans-serif;font-size:73.5px">3</text>
<text transform="translate(1186.70 2179.42)" text-anchor="end" style="font-family:'DejaVu Sans','Liberation Sans',sans-serif;font-size:73.5px">6</text>
<text transform="translate(1184.90 2046.28)" text-anchor="end" style="font-family:'DejaVu Sans','Liberation Sans',sans-serif;font-size:73.5px">9</text>
<text transform="translate(1185.10 1913.14)" text-anchor="end" style="font-family:'DejaVu Sans','Liberation Sans',sans-serif;font-size:73.5px">12</text>
<text transform="translate(1248.88 2486.20) scale(1 1.015)" text-anchor="middle" style="font-family:'DejaVu Sans','Liberation Sans',sans-serif;font-size:73.5px">1</text>
<text transform="translate(1337.20 2486.20) scale(1 1.015)" text-anchor="middle" style="font-family:'DejaVu Sans','Liberation Sans',sans-serif;font-size:73.5px">2</text>
<text transform="translate(1425.54 2486.20) scale(1 1.015)" text-anchor="middle" style="font-family:'DejaVu Sans','Liberation Sans',sans-serif;font-size:73.5px">3</text>
<text transform="translate(1513.87 2486.20) scale(1 1.015)" text-anchor="middle" style="font-family:'DejaVu Sans','Liberation Sans',sans-serif;font-size:73.5px">4</text>
<text transform="translate(1602.19 2486.20) scale(1 1.015)" text-anchor="middle" style="font-family:'DejaVu Sans','Liberation Sans',sans-serif;font-size:73.5px">5</text>
<text transform="translate(1690.53 2486.20) scale(1 1.015)" text-anchor="middle" style="font-family:'DejaVu Sans','Liberation Sans',sans-serif;font-size:73.5px">6</text>
<text transform="translate(1778.86 2486.20) scale(1 1.015)" text-anchor="middle" style="font-family:'DejaVu Sans','Liberation Sans',sans-serif;font-size:73.5px">7</text>
<text transform="translate(1867.18 2486.20) scale(1 1.015)" text-anchor="middle" style="font-family:'DejaVu Sans','Liberation Sans',sans-serif;font-size:73.5px">8</text>
<text transform="translate(1561.35 2570.60) scale(1 1.03)" text-anchor="middle" style="font-family:'DejaVu Sans','Liberation Sans',sans-serif;font-size:73.5px">Molecule</text>
<g transform="translate(1056.70 2230.00) rotate(-90) scale(1 1.045)"><text style="font-family:'DejaVu Sans','Liberation Sans',sans-serif;font-size:74.5px"><tspan x="0" y="-0.3" font-style="oblique">z</tspan><tspan x="6.00" y="-1.2">¯</tspan></text></g><g transform="translate(1056.70 2230.00) rotate(-90)"><text style="font-family:'DejaVu Sans','Liberation Sans',sans-serif;font-size:74.5px"><tspan x="39.22" y="10.8" font-style="oblique" font-size="52.15px">r</tspan><tspan x="60.66" y="10.8" font-style="oblique" font-size="52.15px">e</tspan><tspan x="92.75" y="10.8" font-style="oblique" font-size="52.15px">s</tspan><tspan x="145.05" y="-0.31">/</tspan><tspan x="195.03" y="-0.31" font-style="oblique">Å</tspan></text></g>
</svg>
</body></html>
